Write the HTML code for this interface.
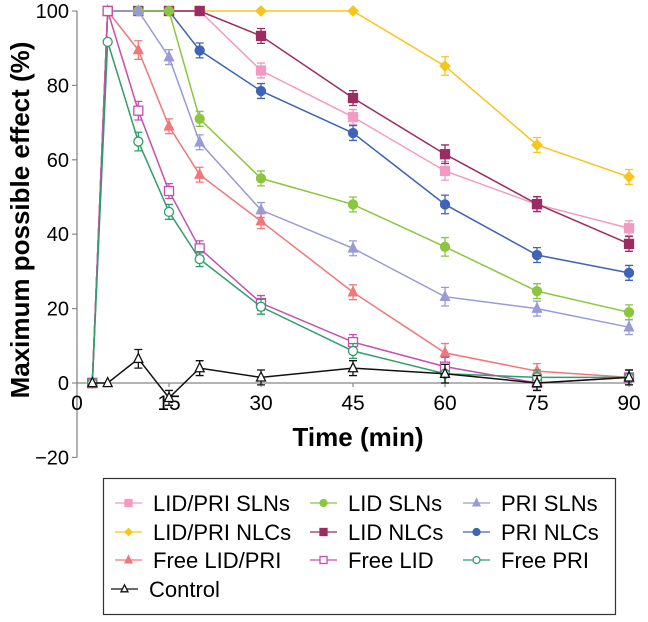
<!DOCTYPE html>
<html><head><meta charset="utf-8"><style>
html,body{margin:0;padding:0;background:#fff;}
svg text{font-family:"Liberation Sans",Arial,sans-serif;}
</style></head><body>
<svg id="chart" width="648" height="617" viewBox="0 0 648 617" xmlns="http://www.w3.org/2000/svg">
<g id="axes"></g>
<g id="series"></g>
<text x="20" y="220" transform="rotate(-90 20 220)" text-anchor="middle" dominant-baseline="central" font-size="26" font-weight="bold">Maximum possible effect (%)</text>
<text x="358" y="446" text-anchor="middle" font-size="26" font-weight="bold">Time (min)</text>
<rect x="103.5" y="478.5" width="512" height="136" fill="#fff" stroke="#333" stroke-width="1.2"/>
<g id="legend"></g>
</svg>
<script>
const times = [2.5, 5, 10, 15, 20, 30, 45, 60, 75, 90];
const controlTimes = [2.5, 5, 10, 15, 20, 30, 45, 60, 75, 90];
const yTicks = [100, 80, 60, 40, 20, 0, -20];
const xTicks = [0, 15, 30, 45, 60, 75, 90];
const seriesNames = ["LID/PRI SLNs","LID SLNs","PRI SLNs","LID/PRI NLCs","LID NLCs","PRI NLCs","Free LID/PRI","Free LID","Free PRI","Control"];
const lidPriSLNs = [0,100,100,100,100,84,71.5,57,48,41.6];
const lidSLNs    = [0,100,100,100,71,55,48,36.6,24.7,19];
const priSLNs    = [0,100,100,87.6,64.7,46.5,36.2,23.2,20,15];
const lidPriNLCs = [0,100,100,100,100,100,100,85.2,64,55.4];
const lidNLCs    = [0,100,100,100,100,93.3,76.6,61.5,48.1,37.4];
const priNLCs    = [0,100,100,100,89.4,78.5,67.2,48,34.4,29.6];
const freeLidPri = [0,100,89.5,69,56,43.5,24.4,8.1,3.2,1.5];
const freeLid    = [0,100,73.2,51.6,36.2,21.5,11,4.4,0,1.5];
const freePri    = [0,91.7,64.9,46,33.3,20.5,8.6,2.5,1.5,1.5];
const control    = [0,0,6.5,-4,4,1.5,4,2.5,0,1.5];
const errs = [0,0,2.5,2,2,2,2,2.5,2,2];

const X = t => 77 + t * (629 - 77) / 90;
const Y = v => 383 - v * 3.72;
const NS = "http://www.w3.org/2000/svg";
function mk(tag, attrs, parent){const e=document.createElementNS(NS,tag);for(const k in attrs)e.setAttribute(k,attrs[k]);parent.appendChild(e);return e;}

const axes = document.getElementById('axes');
let ln = mk('line',{x1:77,y1:Y(100),x2:77,y2:Y(-20),stroke:'#888','stroke-width':1.3},axes);


ln = mk('line',{x1:77,y1:Y(0),x2:632,y2:Y(0),stroke:'#888','stroke-width':1.3},axes);


yTicks.forEach(v=>{
  const t=mk('line',{x1:72,y1:Y(v),x2:77,y2:Y(v),stroke:'#888','stroke-width':1.2},axes);
  
  
  const l=mk('text',{x:69,y:Y(v)+7,'text-anchor':'end','font-size':20},axes);
  l.textContent = v<0 ? '\u2212'+Math.abs(v) : v;
  
  
});
xTicks.forEach(v=>{
  const t=mk('line',{x1:X(v),y1:Y(0),x2:X(v),y2:Y(0)+4,stroke:'#888','stroke-width':1.2},axes);
  
  
  const l=mk('text',{x:X(v),y:410,'text-anchor':'middle','font-size':21},axes);
  l.textContent = v;
  
  
});

const defs = [
 {name:"LID/PRI NLCs", data:lidPriNLCs, t:times, color:"#f7c51c", m:"diamond", fill:true},
 {name:"LID/PRI SLNs", data:lidPriSLNs, t:times, color:"#f49ac1", m:"square", fill:true},
 {name:"LID NLCs", data:lidNLCs, t:times, color:"#9b2c62", m:"square", fill:true},
 {name:"PRI NLCs", data:priNLCs, t:times, color:"#3f63b8", m:"circle", fill:true},
 {name:"LID SLNs", data:lidSLNs, t:times, color:"#8cc63f", m:"circle", fill:true},
 {name:"PRI SLNs", data:priSLNs, t:times, color:"#9a9ad6", m:"triangle", fill:true},
 {name:"Free LID/PRI", data:freeLidPri, t:times, color:"#f2777a", m:"triangle", fill:true},
 {name:"Free LID", data:freeLid, t:times, color:"#c44fb0", m:"square", fill:false},
 {name:"Free PRI", data:freePri, t:times, color:"#2e9e6a", m:"circle", fill:false},
 {name:"Control", data:control, t:controlTimes, color:"#111", m:"triangle", fill:false}
];
function marker(parent, m, cx, cy, color, fill, s){
  const f = fill?color:'#fff';
  let e;
  if(m==='square') e=mk('rect',{x:cx-s,y:cy-s,width:2*s,height:2*s,fill:f,stroke:color,'stroke-width':1.3},parent);
  else if(m==='circle') e=mk('circle',{cx:cx,cy:cy,r:s,fill:f,stroke:color,'stroke-width':1.3},parent);
  else if(m==='diamond') e=mk('polygon',{points:`${cx},${cy-s} ${cx+s},${cy} ${cx},${cy+s} ${cx-s},${cy}`,fill:f,stroke:color,'stroke-width':1.3},parent);
  else e=mk('polygon',{points:`${cx},${cy-s*1.2} ${cx+s},${cy+s*0.8} ${cx-s},${cy+s*0.8}`,fill:f,stroke:color,'stroke-width':1.3},parent);
  return e;
}
const sg = document.getElementById('series');
defs.forEach(d=>{
  const g = mk('g',{},sg);
  
  
  const pts = d.data.map((v,i)=>X(d.t[i])+','+Y(v)).join(' ');
  const pl = mk('polyline',{points:pts,fill:'none',stroke:d.color,'stroke-width':1.5},g);
  
  
  d.data.forEach((v,i)=>{
    const x=X(d.t[i]), e=errs[i];
    if(e>0 && v<100){
      const eb = mk('path',{d:`M${x},${Y(v+e)}V${Y(v-e)}M${x-4},${Y(v+e)}H${x+4}M${x-4},${Y(v-e)}H${x+4}`,stroke:d.color,'stroke-width':1.3,fill:'none'},g);
      
      
    }
    const mm = marker(g,d.m,x,Y(v),d.color,d.fill,d.m==='diamond'?5:4.5);
    
    
  });
});

const legendOrder = [
 ["LID/PRI SLNs",0,0],["LID SLNs",1,0],["PRI SLNs",2,0],
 ["LID/PRI NLCs",0,1],["LID NLCs",1,1],["PRI NLCs",2,1],
 ["Free LID/PRI",0,2],["Free LID",1,2],["Free PRI",2,2],
 ["Control",0,3]
];
const colX=[115,310,463], rowY=[503,532,560,589];
const lg = document.getElementById('legend');
legendOrder.forEach(([n,c,r])=>{
  const d = defs.find(q=>q.name===n);
  const g = mk('g',{},lg);
  
  
  const x0 = n==='Control'?colX[c]-4:colX[c];
  mk('line',{x1:x0,y1:rowY[r],x2:x0+27,y2:rowY[r],stroke:d.color,'stroke-width':1.3},g);
  marker(g,d.m,x0+13.5,rowY[r],d.color,d.fill,3.5);
  const t = mk('text',{x:x0+38,y:rowY[r]+8,'font-size':22},g);
  t.textContent = n;
});
</script>
</body></html>
